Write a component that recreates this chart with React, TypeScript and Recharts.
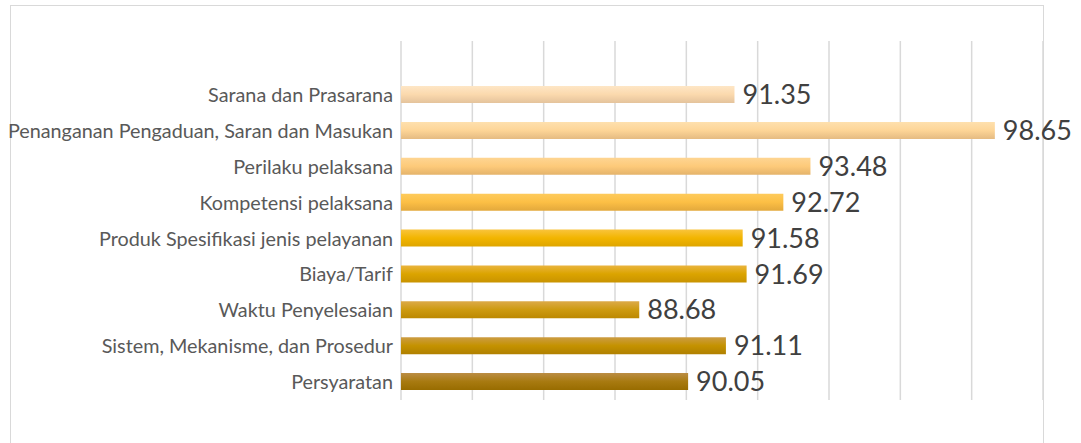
import { BarChart, Bar, XAxis, YAxis, CartesianGrid, Cell, LabelList } from "recharts";

const categories = [
  "Sarana dan Prasarana",
  "Penanganan Pengaduan, Saran dan Masukan",
  "Perilaku pelaksana",
  "Kompetensi pelaksana",
  "Produk Spesifikasi jenis pelayanan",
  "Biaya/Tarif",
  "Waktu Penyelesaian",
  "Sistem, Mekanisme, dan Prosedur",
  "Persyaratan",
];

const scores = [91.35, 98.65, 93.48, 92.72, 91.58, 91.69, 88.68, 91.11, 90.05];

const xTicks = [82, 84, 86, 88, 90, 92, 94, 96, 98, 100];

// top / middle / bottom shade for each bar
const barShades = [
  ["#fee6c6", "#fbd9ad", "#e4c39c"],
  ["#fee0ae", "#fdd597", "#e5bb82"],
  ["#fed592", "#fdca7a", "#e4b36a"],
  ["#fecb5c", "#fcbf45", "#e3a93c"],
  ["#f9c43c", "#f2b500", "#dea500"],
  ["#eab43e", "#dba400", "#c99300"],
  ["#dcaa48", "#cd9a10", "#bc8800"],
  ["#cc9c44", "#c49200", "#b08000"],
  ["#bb8d44", "#a87a10", "#986c00"],
];

const data = categories.map((name, i) => ({ name, value: scores[i] }));

const font = "Lato, 'Open Sans', sans-serif";

export default function App() {
  return (
    <div style={{ position: "fixed", left: 0, top: 0, width: 1081, height: 443, background: "#fff", overflow: "hidden" }}>
      <div
        style={{
          position: "absolute",
          left: 10,
          top: 5,
          width: 1034,
          height: 460,
          border: "1.5px solid #d9d9d9",
          boxSizing: "border-box",
        }}
      />
      <div style={{ position: "absolute", left: 0, top: 0 }}>
        <BarChart
          width={1081}
          height={443}
          data={data}
          layout="vertical"
          margin={{ top: 41, right: 38, bottom: 43, left: 0 }}
          barCategoryGap={0}
        >
          <defs>
            {barShades.map((s, i) => (
              <linearGradient key={i} id={`bar${i}`} x1="0" y1="0" x2="0" y2="1">
                <stop offset="0%" stopColor={s[0]} />
                <stop offset="50%" stopColor={s[1]} />
                <stop offset="100%" stopColor={s[2]} />
              </linearGradient>
            ))}
          </defs>
          <CartesianGrid horizontal={false} stroke="#d9d9d9" strokeWidth={1.5} />
          <XAxis
            type="number"
            domain={[82, 100]}
            ticks={xTicks}
            interval={0}
            allowDataOverflow
            tick={{ fill: "transparent", fontSize: 1 }}
            tickLine={false}
            axisLine={false}
            height={0}
          />
          <YAxis
            type="category"
            dataKey="name"
            width={401}
            axisLine={false}
            tickLine={false}
            padding={{ top: 36, bottom: 0 }}
            tick={{ fill: "#595959", fontSize: 19.8, fontFamily: font }}
            interval={0}
          />
          <Bar dataKey="value" barSize={17} isAnimationActive={false}>
            {data.map((_, i) => (
              <Cell key={i} fill={`url(#bar${i})`} />
            ))}
            <LabelList
              dataKey="value"
              position="right"
              offset={8}
              fill="#404040"
              fontSize={27}
              fontFamily={font}
              formatter={(v: any) => Number(v).toFixed(2)}
            />
          </Bar>
        </BarChart>
      </div>
    </div>
  );
}
